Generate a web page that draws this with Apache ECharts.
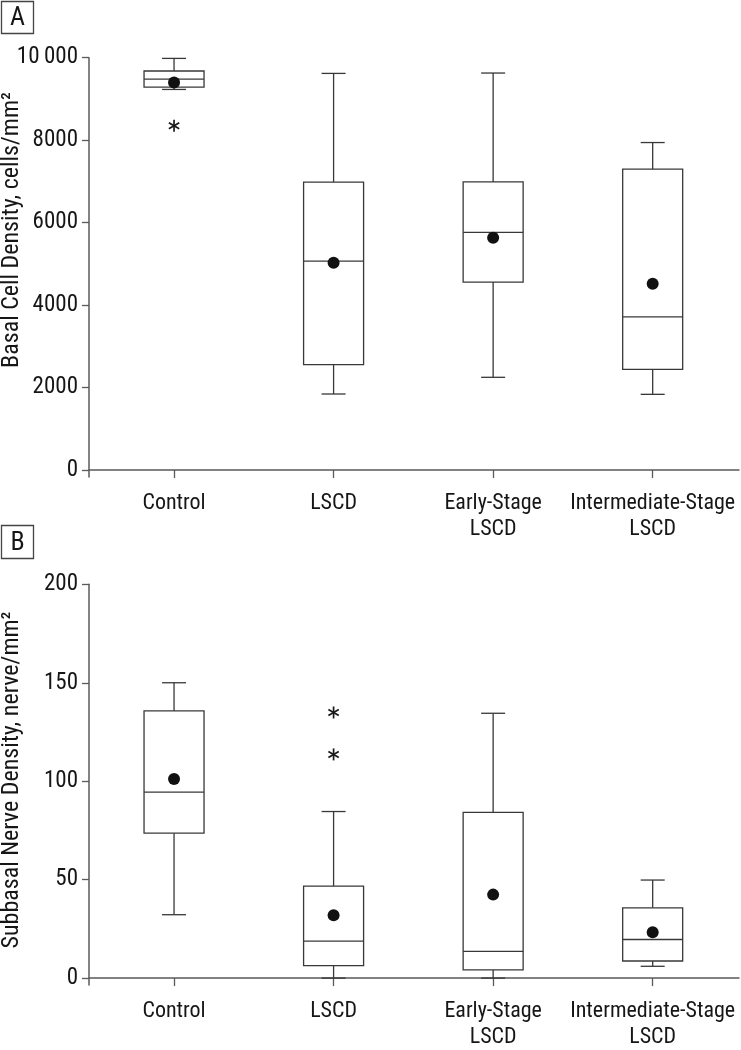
<!DOCTYPE html>
<html>
<head>
<meta charset="utf-8">
<script src="https://cdn.jsdelivr.net/npm/echarts@6/dist/echarts.min.js"></script>
<style>
html,body{margin:0;padding:0;background:#fff;}
#chart{width:741px;height:1050px;}
</style>
</head>
<body>
<div id="chart"></div>
<script>
// ---- Data ----
const categories = ['Control', 'LSCD', 'Early-Stage\nLSCD', 'Intermediate-Stage\nLSCD'];

// Panel A: basal cell density  [min, Q1, median, Q3, max]
const basalBox = [
  [9230, 9288, 9482, 9677, 9983],
  [1843, 2557, 5067, 6980, 9619],
  [2248, 4557, 5764, 6987, 9628],
  [1835, 2442, 3713, 7295, 7942]
];
const basalMean = [9400, 5026, 5633, 4515];
const basalOutliers = [[0, 8348]];            // [category index, value]
const basalTicks = [0, 2000, 4000, 6000, 8000, 10000];

// Panel B: subbasal nerve density  [min, Q1, median, Q3, max]
const nerveBox = [
  [32.2, 73.6, 94.5, 135.7, 150],
  [0, 6.3, 18.8, 46.7, 84.6],
  [0, 4.2, 13.6, 84.2, 134.5],
  [6.0, 8.7, 19.6, 35.7, 49.8]
];
const nerveMean = [101.1, 31.9, 42.4, 23.3];
const nerveOutliers = [[1, 134.9], [1, 113.6]];
const nerveTicks = [0, 50, 100, 150, 200];

const titleA = 'Basal Cell Density, cells/mm\u00B2';
const titleB = 'Subbasal Nerve Density, nerve/mm\u00B2';

// ---- Font detection (prefer a narrow font) ----
function hasFont(name) {
  const c = document.createElement('canvas').getContext('2d');
  const t = 'Intermediate-Stage 10000 mmWi';
  c.font = '40px monospace';
  const w0 = c.measureText(t).width;
  c.font = "40px '" + name + "', monospace";
  const w1 = c.measureText(t).width;
  c.font = '40px serif';
  const w2 = c.measureText(t).width;
  c.font = "40px '" + name + "', serif";
  const w3 = c.measureText(t).width;
  return w0 !== w1 || w2 !== w3;
}
const narrowCandidates = ['Liberation Sans Narrow', 'Arial Narrow', 'Roboto Condensed', 'Open Sans Condensed', 'Noto Sans Condensed', 'Noto Sans Display Condensed'];
let FONTNAME = null;
for (const f of narrowCandidates) { if (hasFont(f)) { FONTNAME = f; break; } }
const NARROW = !!FONTNAME;
if (!FONTNAME) FONTNAME = 'DejaVu Sans Condensed';
const FONT = "'" + FONTNAME + "', sans-serif";
const FS = NARROW ? 22 : 20;
const FT = NARROW ? 24 : 21;

// ---- Styles ----
const LINE = '#383838';
const AXIS = '#5a5a5a';
const TXT = '#161616';

const catPos = categories.map((c, i) => i + 1);

function fmtNum(v) {
  const s = String(v);
  return v >= 10000 ? s.slice(0, s.length - 3) + '\u2009' + s.slice(-3) : s;
}

function renderBox(params, api) {
  const x = api.value(0);
  const pmin = api.coord([x, api.value(1)]);
  const pq1 = api.coord([x, api.value(2)]);
  const pmed = api.coord([x, api.value(3)]);
  const pq3 = api.coord([x, api.value(4)]);
  const pmax = api.coord([x, api.value(5)]);
  const cx = pmed[0], hw = 30, cw = 12;
  const st = { stroke: LINE, lineWidth: 1.3 };
  return {
    type: 'group',
    children: [
      { type: 'line', shape: { x1: cx, y1: pq3[1], x2: cx, y2: pmax[1] }, style: st },
      { type: 'line', shape: { x1: cx - cw, y1: pmax[1], x2: cx + cw, y2: pmax[1] }, style: st },
      { type: 'line', shape: { x1: cx, y1: pq1[1], x2: cx, y2: pmin[1] }, style: st },
      { type: 'line', shape: { x1: cx - cw, y1: pmin[1], x2: cx + cw, y2: pmin[1] }, style: st },
      { type: 'rect', shape: { x: cx - hw, y: pq3[1], width: 2 * hw, height: pq1[1] - pq3[1] },
        style: { stroke: LINE, lineWidth: 1.3, fill: '#fff' } },
      { type: 'line', shape: { x1: cx - hw, y1: pmed[1], x2: cx + hw, y2: pmed[1] }, style: st }
    ]
  };
}

function renderStar(params, api) {
  const c = api.coord([api.value(0), api.value(1)]);
  const r = 6, a = r * Math.cos(Math.PI / 6), b = r * Math.sin(Math.PI / 6);
  const st = { stroke: '#1a1a1a', lineWidth: 1.7 };
  return {
    type: 'group',
    children: [
      { type: 'line', shape: { x1: c[0], y1: c[1] - r, x2: c[0], y2: c[1] + r }, style: st },
      { type: 'line', shape: { x1: c[0] - a, y1: c[1] - b, x2: c[0] + a, y2: c[1] + b }, style: st },
      { type: 'line', shape: { x1: c[0] - a, y1: c[1] + b, x2: c[0] + a, y2: c[1] - b }, style: st }
    ]
  };
}

function xAxisCfg(gridIndex) {
  return {
    type: 'value', gridIndex: gridIndex,
    min: 0.467, max: 4.541,
    splitLine: { show: false },
    axisLine: { show: true, lineStyle: { color: AXIS, width: 1.5 } },
    axisTick: { show: true, length: 8, lineStyle: { color: AXIS, width: 1.3 }, customValues: catPos },
    axisLabel: {
      show: true, customValues: catPos, margin: 13,
      formatter: v => categories[Math.round(v) - 1] || '',
      fontFamily: FONT, fontSize: FS, color: TXT, lineHeight: 26
    }
  };
}

function yAxisCfg(gridIndex, min, max, ticks) {
  return {
    type: 'value', gridIndex: gridIndex, min: min, max: max,
    splitLine: { show: false },
    axisLine: { show: true, lineStyle: { color: AXIS, width: 1.5 } },
    axisTick: { show: true, length: 7, lineStyle: { color: AXIS, width: 1.3 }, customValues: ticks },
    axisLabel: {
      show: true, customValues: ticks, margin: 11, formatter: v => fmtNum(v),
      fontFamily: FONT, fontSize: FS + 1, color: TXT
    }
  };
}

const chart = echarts.init(document.getElementById('chart'), null, { renderer: 'canvas' });

chart.setOption({
  backgroundColor: '#fff',
  animation: false,
  grid: [
    { left: 89, right: 2, top: 57.7, bottom: 573 },
    { left: 89, right: 2, top: 584.3, bottom: 57.3 }
  ],
  xAxis: [xAxisCfg(0), xAxisCfg(1)],
  yAxis: [
    yAxisCfg(0, -170, 10000, basalTicks),
    yAxisCfg(1, -3.5, 200, nerveTicks)
  ],
  graphic: [
    { type: 'rect', shape: { x: 1.5, y: 1.5, width: 32, height: 32 }, style: { fill: 'none', stroke: '#444', lineWidth: 1.3 } },
    { type: 'text', x: 17.5, y: 18, style: { text: 'A', font: (FS + 4) + 'px ' + FONT, fill: TXT, textAlign: 'center', textVerticalAlign: 'middle' } },
    { type: 'rect', shape: { x: 1.5, y: 525.5, width: 32, height: 33 }, style: { fill: 'none', stroke: '#444', lineWidth: 1.3 } },
    { type: 'text', x: 17.5, y: 543, style: { text: 'B', font: (FS + 4) + 'px ' + FONT, fill: TXT, textAlign: 'center', textVerticalAlign: 'middle' } },
    { type: 'text', x: 12, y: 230, rotation: Math.PI / 2, style: { text: titleA, font: FT + 'px ' + FONT, fill: TXT, textAlign: 'center', textVerticalAlign: 'middle' } },
    { type: 'text', x: 12, y: 780, rotation: Math.PI / 2, style: { text: titleB, font: FT + 'px ' + FONT, fill: TXT, textAlign: 'center', textVerticalAlign: 'middle' } }
  ],
  series: [
    { type: 'custom', xAxisIndex: 0, yAxisIndex: 0, renderItem: renderBox,
      encode: { x: 0, y: [1, 2, 3, 4, 5] },
      data: basalBox.map((b, i) => [catPos[i]].concat(b)), z: 2 },
    { type: 'scatter', xAxisIndex: 0, yAxisIndex: 0, symbol: 'circle', symbolSize: 12,
      itemStyle: { color: '#111', opacity: 1 }, data: basalMean.map((m, i) => [catPos[i], m]), z: 3 },
    { type: 'custom', xAxisIndex: 0, yAxisIndex: 0, renderItem: renderStar,
      encode: { x: 0, y: 1 },
      data: basalOutliers.map(o => [catPos[o[0]], o[1]]), z: 3 },

    { type: 'custom', xAxisIndex: 1, yAxisIndex: 1, renderItem: renderBox,
      encode: { x: 0, y: [1, 2, 3, 4, 5] },
      data: nerveBox.map((b, i) => [catPos[i]].concat(b)), z: 2 },
    { type: 'scatter', xAxisIndex: 1, yAxisIndex: 1, symbol: 'circle', symbolSize: 12,
      itemStyle: { color: '#111', opacity: 1 }, data: nerveMean.map((m, i) => [catPos[i], m]), z: 3 },
    { type: 'custom', xAxisIndex: 1, yAxisIndex: 1, renderItem: renderStar,
      encode: { x: 0, y: 1 },
      data: nerveOutliers.map(o => [catPos[o[0]], o[1]]), z: 3 }
  ]
});
</script>
</body>
</html>
